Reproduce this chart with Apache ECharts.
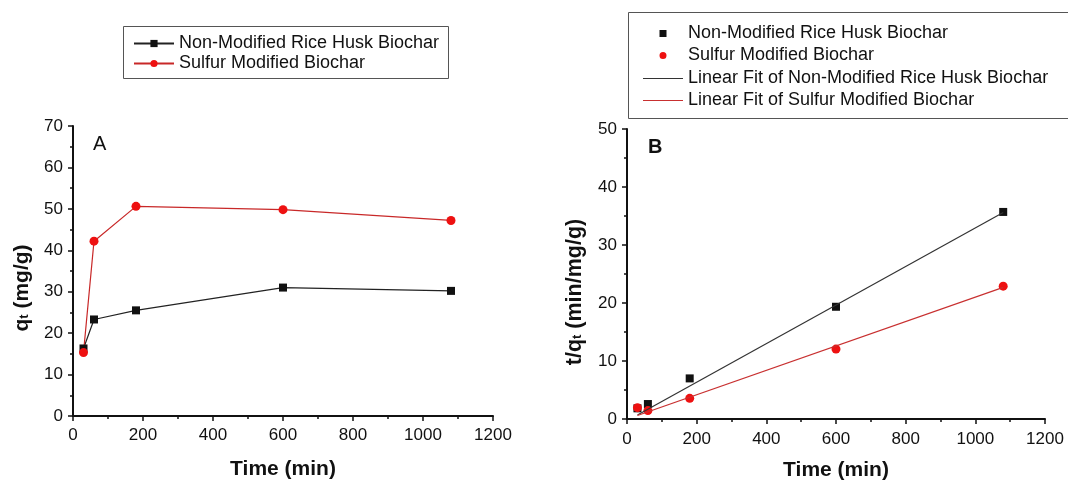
<!DOCTYPE html>
<html>
<head>
    <title>Biochar adsorption kinetics</title>
    <script src="https://cdn.jsdelivr.net/npm/echarts@6/dist/echarts.min.js"></script>
    <style>
      body { margin: 0; background: #fff; }
    </style>
</head>
<body>
    <div id="chart" style="width: 1068px; height: 481px;"></div>
    <script>
        // time points (min)
        var timeMin = [30, 60, 180, 600, 1080];

        // panel A: qt (mg/g)
        var qtPlain = [16.3, 23.3, 25.5, 31.0, 30.2];
        var qtSulfur = [15.3, 42.2, 50.6, 49.8, 47.2];

        // panel B: t/qt (min/mg/g)
        var tqPlain = [1.84, 2.58, 7.0, 19.35, 35.7];
        var tqSulfur = [1.95, 1.45, 3.56, 12.05, 22.9];

        // fitted lines, endpoints
        var fitX = [30, 1080];
        var fitPlain = [0.7, 35.6];
        var fitSulfur = [0.6, 22.7];

        var xTicks = [0, 200, 400, 600, 800, 1000, 1200];

        var nameA = 'Non-Modified Rice Husk Biochar';
        var nameB = 'Sulfur Modified Biochar';
        // trailing space keeps the scatter series apart from panel A's line series
        var nameA2 = 'Non-Modified Rice Husk Biochar ';
        var nameB2 = 'Sulfur Modified Biochar ';
        var fitNameA = 'Linear Fit of Non-Modified Rice Husk Biochar';
        var fitNameB = 'Linear Fit of Sulfur Modified Biochar';

        function pairs(xs, ys) {
          return xs.map(function (x, i) { return [x, ys[i]]; });
        }

        var font = 'Liberation Sans, Arial, sans-serif';
        var black = '#111';
        var red = '#ee1111';

        // legend icons, all 40 wide so the texts line up
        var squareIcon = 'path://M0,0 L0.01,0 L0.01,0.01 Z M16.5,1 L23.5,1 L23.5,8 L16.5,8 Z M40,9 L39.99,9 L39.99,8.99 Z';
        var circleIcon = 'path://M0,0 L0.01,0 L0.01,0.01 Z M20,1 A3.5,3.5 0 1 1 20,8 A3.5,3.5 0 1 1 20,1 Z M40,9 L39.99,9 L39.99,8.99 Z';
        var lineIcon = 'path://M0,0 L40,0 L40,1.2 L0,1.2 Z';

        // one legend per row so the row spacing can be set exactly
        function legendRow(item, left, centerY) {
          return {
            data: [item],
            orient: 'vertical',
            left: left, top: centerY - 14,
            padding: 0,
            itemWidth: 40, itemHeight: 9,
            symbolKeepAspect: true,
            textStyle: { fontFamily: font, fontSize: 18, lineHeight: 18, color: '#111' }
          };
        }

        function xAxisOf(idx, gap, margin) {
          return {
            gridIndex: idx,
            type: 'value',
            min: 0, max: 1200, interval: 200,
            name: 'Time (min)',
            nameLocation: 'middle',
            nameGap: gap,
            nameMoveOverlap: false,
            nameTextStyle: { fontFamily: font, fontSize: 21, fontWeight: 'bold', color: '#111' },
            axisLine: { lineStyle: { color: '#111', width: 2 } },
            axisTick: { show: true, inside: false, length: 5, lineStyle: { color: '#111', width: 1.5 } },
            minorTick: { show: true, splitNumber: 2, length: 3, lineStyle: { color: '#111', width: 1.5 } },
            axisLabel: { fontFamily: font, fontSize: 17, color: '#111', margin: margin,
              formatter: function (v) { return xTicks.indexOf(v) >= 0 ? String(v) : ''; } },
            splitLine: { show: false }
          };
        }

        function yAxisOf(idx, max, nameRich, gap, shift, size) {
          return {
            gridIndex: idx,
            type: 'value',
            min: 0, max: max, interval: 10,
            name: nameRich,
            nameLocation: 'middle',
            nameGap: gap,
            nameRotate: 90,
            nameTextStyle: {
              fontFamily: font, fontSize: size, fontWeight: 'bold', color: '#111',
              padding: [0, shift, 0, 0],
              rich: {
                a: { fontFamily: font, fontSize: size, fontWeight: 'bold', color: '#111', lineHeight: 28, verticalAlign: 'middle' },
                s: { fontFamily: font, fontSize: 13, fontWeight: 'bold', color: '#111', lineHeight: 28, verticalAlign: 'bottom' }
              }
            },
            axisLine: { show: true, lineStyle: { color: '#111', width: 2 } },
            axisTick: { show: true, inside: false, length: 5, lineStyle: { color: '#111', width: 1.5 } },
            minorTick: { show: true, splitNumber: 2, length: 3, lineStyle: { color: '#111', width: 1.5 } },
            axisLabel: { fontFamily: font, fontSize: 17, color: '#111', margin: 10 },
            splitLine: { show: false }
          };
        }

        var option = {
          backgroundColor: '#fff',
          animation: false,
          grid: [
            { left: 73, top: 126, width: 420, height: 290, outerBoundsMode: 'none' },
            { left: 627, top: 129, width: 418, height: 290, outerBoundsMode: 'none' }
          ],
          xAxis: [xAxisOf(0, 35, 5), xAxisOf(1, 33, 6)],
          yAxis: [
            yAxisOf(0, 70, '{a|q}{s|t}{a| (mg/g)}', 36, 34, 21),
            yAxisOf(1, 50, '{a|t/q}{s|t}{a| (min/mg/g)}', 38, 36, 21.5)
          ],
          legend: [
            legendRow(nameA, 133, 42),
            legendRow(nameB, 133, 62),
            legendRow({ name: nameA2, icon: squareIcon }, 643, 32),
            legendRow({ name: nameB2, icon: circleIcon }, 643, 54),
            legendRow({ name: fitNameA, icon: lineIcon }, 643, 77),
            legendRow({ name: fitNameB, icon: lineIcon }, 643, 99)
          ],
          graphic: [
            // legend frames
            { type: 'rect', shape: { x: 123.5, y: 26.5, width: 325, height: 52 },
              style: { fill: 'none', stroke: '#555', lineWidth: 1 } },
            { type: 'rect', shape: { x: 628.5, y: 12.5, width: 460, height: 106 },
              style: { fill: 'none', stroke: '#555', lineWidth: 1 } },
            { type: 'text', left: 93, top: 127, style: { text: 'A', fontFamily: font, fontSize: 20, fill: '#111' } },
            { type: 'text', left: 648, top: 130, style: { text: 'B', fontFamily: font, fontSize: 20, fontWeight: 'bold', fill: '#111' } }
          ],
          series: [
            {
              name: nameA, type: 'line', xAxisIndex: 0, yAxisIndex: 0,
              data: pairs(timeMin, qtPlain),
              symbol: 'rect', symbolSize: 8,
              itemStyle: { color: black },
              lineStyle: { color: '#222', width: 1.2 }
            },
            {
              name: nameB, type: 'line', xAxisIndex: 0, yAxisIndex: 0,
              data: pairs(timeMin, qtSulfur),
              symbol: 'circle', symbolSize: 9,
              itemStyle: { color: red },
              lineStyle: { color: '#c82828', width: 1.2 }
            },
            {
              name: fitNameA, type: 'line', xAxisIndex: 1, yAxisIndex: 1,
              data: pairs(fitX, fitPlain),
              symbol: 'none',
              itemStyle: { color: '#333' },
              lineStyle: { color: '#333', width: 1.2 }
            },
            {
              name: fitNameB, type: 'line', xAxisIndex: 1, yAxisIndex: 1,
              data: pairs(fitX, fitSulfur),
              symbol: 'none',
              itemStyle: { color: '#c83030' },
              lineStyle: { color: '#c83030', width: 1.2 }
            },
            {
              name: nameA2, type: 'scatter', xAxisIndex: 1, yAxisIndex: 1,
              data: pairs(timeMin, tqPlain),
              symbol: 'rect', symbolSize: 8,
              itemStyle: { color: black, opacity: 1 }
            },
            {
              name: nameB2, type: 'scatter', xAxisIndex: 1, yAxisIndex: 1,
              data: pairs(timeMin, tqSulfur),
              symbol: 'circle', symbolSize: 9,
              itemStyle: { color: red, opacity: 1 }
            }
          ]
        };

        var chart = echarts.init(document.querySelector('#chart'));
        chart.setOption(option);
    </script>
</body>
</html>
